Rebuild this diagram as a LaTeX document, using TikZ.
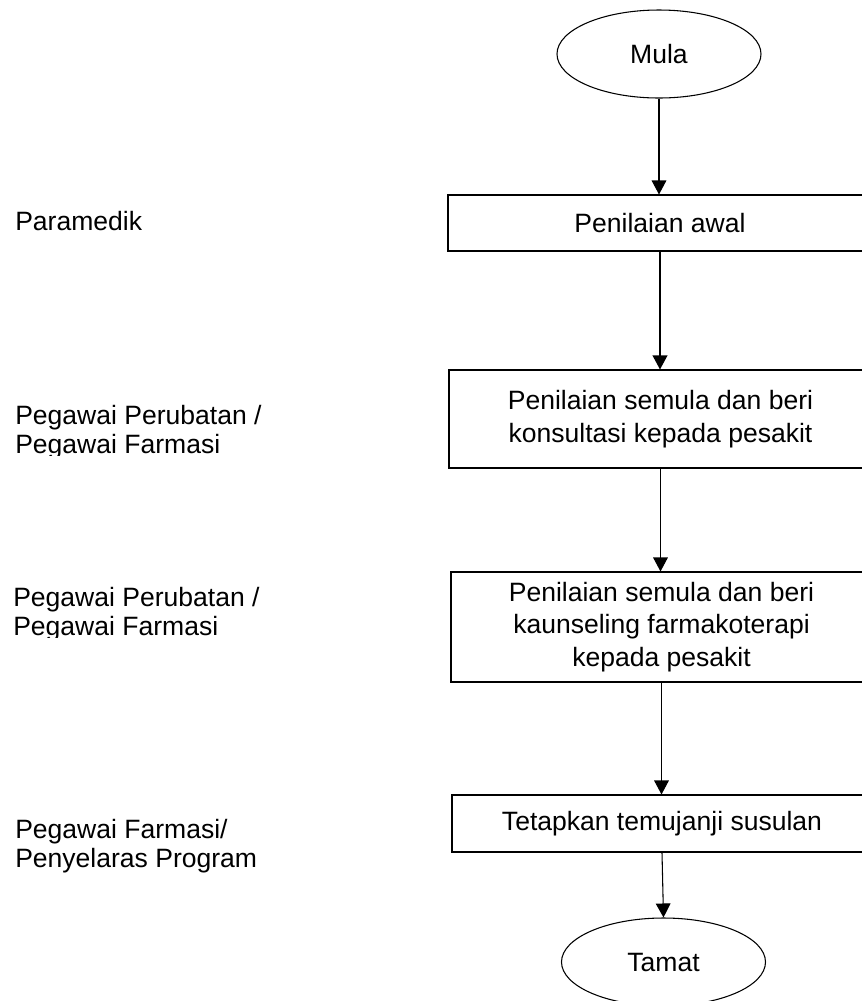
\documentclass[tikz,border=0pt]{standalone}
\usepackage{fontspec}
\setmainfont{Liberation Sans}
\usetikzlibrary{shapes.geometric, arrows.meta, positioning}

\begin{document}
\begin{tikzpicture}[
    x=0.75pt, y=-0.75pt,
    font=\fontsize{19.9pt}{24.5pt}\selectfont,
    >={Triangle[width=11pt, length=10.5pt]},
    terminal/.style={
        draw, ellipse, line width=0.8pt,
        minimum width=153pt, minimum height=66pt,
        inner sep=0pt
    },
    process/.style={
        draw, rectangle, line width=0.8pt,
        align=center, inner sep=0pt,
        minimum width=#1
    },
    actor/.style={
        anchor=north west, align=left, inner sep=0pt,
        font=\fontsize{19.9pt}{21.75pt}\selectfont
    },
    arrow/.style={->, line width=0.8pt}
]
\useasboundingbox (0,0) rectangle (862,1001);
\clip (0,0) rectangle (862,1001);

% Flow
\node[terminal] (mula) at (659, 54) {Mula};
\node[process=318pt, minimum height=42pt] (awal) at (660, 223) {Penilaian awal};
\node[process=317.25pt, minimum height=73.5pt] (konsul) at (660.5, 419) {Penilaian semula dan beri\\konsultasi kepada pesakit};
\node[process=315.75pt, minimum height=82.5pt] (kaunsel) at (661.5, 627) {Penilaian semula dan beri\\kaunseling farmakoterapi\\kepada pesakit};
\node[process=315pt, minimum height=42.75pt] (temujanji) at (662, 823.5) {Tetapkan temujanji susulan};
\node[terminal] (tamat) at (663.5, 962) {Tamat};

\draw[arrow] (mula.south) -- (mula.south |- awal.north);
\draw[arrow, line width=1.2pt] (awal.south) -- (awal.south |- konsul.north);
\draw[arrow] (konsul.south) -- (konsul.south |- kaunsel.north);
\draw[arrow] (kaunsel.south) -- (kaunsel.south |- temujanji.north);
\draw[arrow] (temujanji.south) -- (tamat.north);

% Roles
\node[anchor=base west, inner sep=0pt] (paramedik) at (15, 230) {Paramedik};
\begin{scope}
  \clip (0,380) rectangle (440,455);
  \node[actor] (role2) at (15, 405) {Pegawai Perubatan /\\Pegawai Farmasi};
\end{scope}
\begin{scope}
  \clip (0,560) rectangle (440,637);
  \node[actor] (role3) at (13, 587) {Pegawai Perubatan /\\Pegawai Farmasi};
\end{scope}
\node[actor] (role4) at (15, 819) {Pegawai Farmasi/\\Penyelaras Program};

\end{tikzpicture}
\end{document}
